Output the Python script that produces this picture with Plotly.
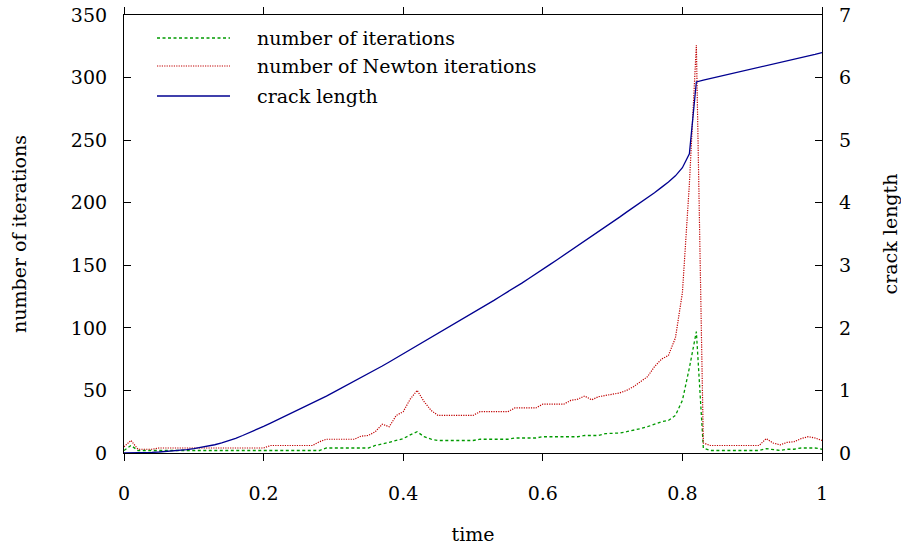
import plotly.graph_objects as go

# ---- data ----
time = [0.00, 0.01, 0.02, 0.03, 0.04, 0.05, 0.06, 0.07, 0.08, 0.09,
        0.10, 0.11, 0.12, 0.13, 0.14, 0.15, 0.16, 0.17, 0.18, 0.19,
        0.20, 0.21, 0.22, 0.23, 0.24, 0.25, 0.26, 0.27, 0.28, 0.29,
        0.30, 0.31, 0.32, 0.33, 0.34, 0.35, 0.36, 0.37, 0.38, 0.39,
        0.40, 0.41, 0.42, 0.43, 0.44, 0.45, 0.46, 0.47, 0.48, 0.49,
        0.50, 0.51, 0.52, 0.53, 0.54, 0.55, 0.56, 0.57, 0.58, 0.59,
        0.60, 0.61, 0.62, 0.63, 0.64, 0.65, 0.66, 0.67, 0.68, 0.69,
        0.70, 0.71, 0.72, 0.73, 0.74, 0.75, 0.76, 0.77, 0.78, 0.79,
        0.80, 0.81, 0.82, 0.83, 0.84, 0.85, 0.86, 0.87, 0.88, 0.89,
        0.90, 0.91, 0.92, 0.93, 0.94, 0.95, 0.96, 0.97, 0.98, 0.99,
        1.00]

iterations = [2, 6, 2, 2, 2, 2, 2, 2, 2, 2,
              2, 2, 2, 2, 2, 2, 2, 2, 2, 2,
              2, 2, 2, 2, 2, 2, 2, 2, 2, 4,
              4, 4, 4, 4, 4, 4, 6, 7, 8.5, 10,
              11.5, 14.5, 17, 13, 11, 10, 10, 10, 10, 10,
              10, 11, 11, 11, 11, 11, 12, 12, 12, 12,
              13, 13, 13, 13, 13, 13, 14, 14, 14, 15.5,
              15.5, 16, 17, 18, 19.5, 21, 23, 25, 26, 30,
              42, 68, 97, 4, 2, 2, 2, 2, 2, 2,
              2, 2, 3.5, 2.5, 2, 3, 3, 4, 4, 4,
              3]

newton_iterations = [5, 10, 3, 3, 3, 4, 4, 4, 4, 4,
                     4, 4, 4, 4, 4, 4, 4, 4, 4, 4,
                     4, 6, 6, 6, 6, 6, 6, 6, 9, 11,
                     11, 11, 11, 11, 13.5, 14, 17, 23, 21, 30,
                     33, 43, 50, 41, 34, 30, 30, 30, 30, 30,
                     30, 33, 33, 33, 33, 33, 36, 36, 36, 36,
                     39, 39, 39, 39, 42, 43, 45.5, 42.5, 45, 46,
                     47.5, 48, 50, 53, 57, 61, 69, 75, 78, 92,
                     128, 215, 326, 8, 6, 6, 6, 6, 6, 6,
                     6, 6, 11.5, 8, 6.5, 8.5, 9, 11.5, 13, 12,
                     10]

crack_length = [0.0, 0.0, 0.002, 0.005, 0.01, 0.016, 0.023, 0.032, 0.043, 0.055,
                0.07, 0.088, 0.108, 0.132, 0.16, 0.195, 0.235, 0.28, 0.325, 0.375,
                0.425, 0.477, 0.53, 0.583, 0.635, 0.69, 0.745, 0.80, 0.855, 0.91,
                0.97, 1.03, 1.085, 1.145, 1.20, 1.26, 1.325, 1.39, 1.455, 1.52,
                1.585, 1.65, 1.72, 1.78, 1.85, 1.915, 1.98, 2.045, 2.11, 2.175,
                2.24, 2.30, 2.37, 2.44, 2.51, 2.575, 2.645, 2.715, 2.79, 2.86,
                2.935, 3.01, 3.085, 3.16, 3.23, 3.31, 3.385, 3.46, 3.54, 3.62,
                3.695, 3.77, 3.85, 3.925, 4.005, 4.08, 4.16, 4.245, 4.33, 4.43,
                4.56, 4.78, 5.93, 5.96, 5.985, 6.01, 6.04, 6.065, 6.09, 6.12,
                6.145, 6.17, 6.195, 6.22, 6.245, 6.27, 6.295, 6.32, 6.345, 6.37,
                6.40]

series_names = ["number of iterations", "number of Newton iterations", "crack length"]
x_ticks = [0, 0.2, 0.4, 0.6, 0.8, 1]
x_tick_labels = ["0", "0.2", "0.4", "0.6", "0.8", "1"]
y_ticks = [0, 50, 100, 150, 200, 250, 300, 350]
y2_ticks = [0, 1, 2, 3, 4, 5, 6, 7]

# ---- styles ----
GREEN = "#009a00"
RED = "#c00000"
BLUE = "#000090"
FONT = "DejaVu Serif"
FS = 19
green_dash = "3px,2.5px"
red_dash = "1.2px,1.2px"

fig = go.Figure()
fig.add_trace(go.Scatter(x=time, y=iterations, mode="lines", name=series_names[0],
                         line=dict(color=GREEN, width=1.3, dash=green_dash)))
fig.add_trace(go.Scatter(x=time, y=newton_iterations, mode="lines", name=series_names[1],
                         line=dict(color=RED, width=1.2, dash=red_dash)))
fig.add_trace(go.Scatter(x=time, y=crack_length, mode="lines", name=series_names[2],
                         line=dict(color=BLUE, width=1.3), yaxis="y2"))

# custom legend (long line samples like the reference)
legend_rows = [0.9475, 0.8836, 0.8151]
legend_styles = [(GREEN, green_dash, 1.3), (RED, red_dash, 1.2), (BLUE, "solid", 1.3)]
for name, yy, (col, dash, w) in zip(series_names, legend_rows, legend_styles):
    fig.add_shape(type="line", xref="paper", yref="paper", x0=0.0473, x1=0.1519, y0=yy, y1=yy,
                  line=dict(color=col, width=w, dash=dash))
    fig.add_annotation(xref="paper", yref="paper", x=0.1877, y=yy, text=name, showarrow=False,
                       xanchor="left", yanchor="middle", font=dict(family=FONT, size=FS, color="black"))

axis_common = dict(showline=True, linecolor="black", linewidth=1.2, showgrid=False, zeroline=False,
                   tickcolor="black", tickwidth=1.2, ticklen=7,
                   tickfont=dict(family=FONT, size=FS, color="black"))

fig.update_layout(
    width=901, height=549,
    margin=dict(l=124, r=79, t=15, b=96),
    plot_bgcolor="white", paper_bgcolor="white",
    font=dict(family=FONT, size=FS, color="black"),
    showlegend=False,
    xaxis=dict(range=[0, 1], tickvals=x_ticks, ticktext=x_tick_labels, ticks="outside",
               mirror="ticks", ticklabelstandoff=16,
               title=dict(text="time", standoff=24, font=dict(family=FONT, size=FS)),
               automargin=False, **axis_common),
    yaxis=dict(range=[0, 350], tickvals=y_ticks, ticks="inside", ticklabelstandoff=12,
               title=dict(text="number of iterations", standoff=39, font=dict(family=FONT, size=FS)),
               automargin=False, **axis_common),
    yaxis2=dict(range=[0, 7], tickvals=y2_ticks, ticks="inside", overlaying="y", side="right",
                ticklabelstandoff=12,
                title=dict(text="crack length", standoff=36, font=dict(family=FONT, size=FS)),
                automargin=False, **axis_common),
)

fig.write_html("out.html", config={"displayModeBar": False},
               post_script="document.body.style.margin='0px';document.body.style.overflow='hidden';")
